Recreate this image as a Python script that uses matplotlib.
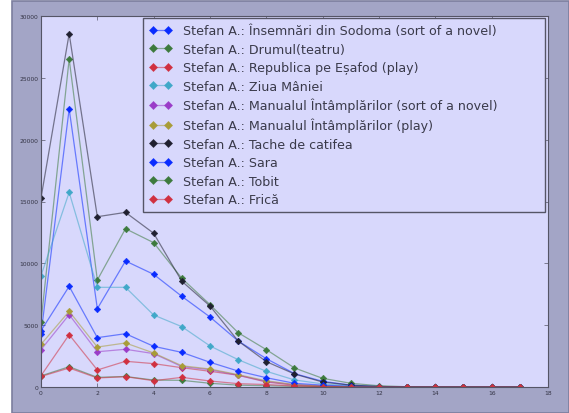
import matplotlib
matplotlib.use("Agg")
import matplotlib.pyplot as plt
from matplotlib.patches import Rectangle
from matplotlib.colors import to_rgba

# chapters (x) vs counts, one list per text
labels = [
    "Stefan A.: Însemnări din Sodoma (sort of a novel)",
    "Stefan A.: Drumul(teatru)",
    "Stefan A.: Republica pe Eșafod (play)",
    "Stefan A.: Ziua Mâniei",
    "Stefan A.: Manualul Întâmplărilor (sort of a novel)",
    "Stefan A.: Manualul Întâmplărilor (play)",
    "Stefan A.: Tache de catifea",
    "Stefan A.: Sara",
    "Stefan A.: Tobit",
    "Stefan A.: Frică",
]

sodoma = [4300, 22480, 6330, 10190, 9110, 7330, 5660, 3720, 2290, 1080, 460, 150, 40, 0, 0, 0, 0, 0]
drumul = [5280, 26520, 8650, 12800, 11670, 8790, 6660, 4390, 3020, 1540, 700, 300, 100, 20, 0, 0, 0, 0]
republica = [915, 4230, 1375, 2080, 1890, 1560, 1270, 950, 400, 150, 60, 20, 0, 0, 0, 0, 0, 0]
ziua = [9000, 15740, 8060, 8060, 5820, 4880, 3320, 2210, 1270, 570, 250, 100, 30, 0, 0, 0, 0, 0]
manual_novel = [3020, 5850, 2850, 3050, 2700, 1650, 1400, 950, 450, 180, 70, 20, 0, 0, 0, 0, 0, 0]
manual_play = [3450, 6120, 3230, 3560, 2750, 1720, 1455, 1000, 500, 200, 80, 30, 0, 0, 0, 0, 0, 0]
tache = [15280, 28570, 13770, 14120, 12430, 8550, 6550, 3720, 2050, 1050, 400, 150, 40, 0, 0, 0, 0, 0]
sara = [4550, 8140, 3990, 4310, 3290, 2800, 2000, 1290, 750, 300, 150, 50, 10, 0, 0, 0, 0, 0]
tobit = [900, 1640, 780, 850, 560, 540, 300, 150, 100, 50, 20, 0, 0, 0, 0, 0, 0, 0]
frica = [850, 1536, 730, 835, 510, 780, 485, 270, 200, 80, 30, 10, 0, 0, 0, 0, 0, 0]

series = [sodoma, drumul, republica, ziua, manual_novel, manual_play, tache, sara, tobit, frica]
colors = ['#0a2cff', '#3d7a3d', '#d03040', '#40a8c8', '#9a3cc8', '#a89c38', '#202030',
          '#0a2cff', '#3d7a3d', '#d03040']

fig = plt.figure(figsize=(5.69, 4.14), dpi=100, facecolor='white')
# grey-blue panel behind the plot (screenshot leaves a white strip on the left)
fig.patches.append(Rectangle((12 / 569, 0), 1 - 12 / 569, 1 - 2 / 414,
                             transform=fig.transFigure, facecolor='#a3a5c6',
                             edgecolor='#7c7e9e', linewidth=1.2, zorder=-10))

ax = fig.add_axes([41 / 569, 1 - 388 / 414, (548 - 41) / 569, (388 - 17) / 414])
ax.set_zorder(1)
ax.set_facecolor('#d8d8fc')

for vals, lab, col in zip(series, labels, colors):
    ax.plot(range(len(vals)), vals, color=to_rgba(col, 0.55), linewidth=0.9,
            marker='D', markersize=3.3, markerfacecolor=col,
            markeredgecolor=to_rgba(col, 0.8), markeredgewidth=0.5, label=lab)

ax.set_xlim(0, 18)
ax.set_ylim(0, 30000)
ax.set_xticks(range(0, 19, 2))
ax.set_yticks(range(0, 30001, 5000))
ax.tick_params(direction='in', top=True, right=True, length=3, width=0.5,
               labelsize=4.3, labelcolor='#333344', color='#555566', pad=2)
for s in ax.spines.values():
    s.set_color('#555566')
    s.set_linewidth(0.8)

# legend box is wider than its text in the reference, so stretch it to a fixed box
leg = ax.legend(loc='upper left', bbox_to_anchor=(0.2012, 0.0, 0.7929, 0.9946),
                mode='expand', borderaxespad=0.0, fontsize=9.05, numpoints=2,
                markerscale=1.3, handlelength=1.76, handletextpad=0.95,
                borderpad=0.5, fancybox=False, framealpha=1.0, labelspacing=0.43)
leg.get_frame().set_facecolor('#d8d8fc')
leg.get_frame().set_edgecolor('#555566')
for t in leg.get_texts():
    t.set_color('#3a3a4a')

fig.savefig('out.png', dpi=100, facecolor=fig.get_facecolor())
